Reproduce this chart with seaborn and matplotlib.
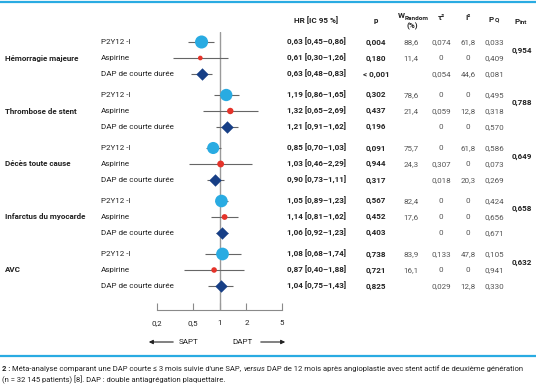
import numpy as np
import pandas as pd
import seaborn as sns
import matplotlib.pyplot as plt
from matplotlib.ticker import FixedLocator, FixedFormatter, NullLocator

groups = ["Hémorragie majeure", "Thrombose de stent", "Décès toute cause",
          "Infarctus du myocarde", "AVC"]
treatments = ["P2Y12 -I", "Aspirine", "DAP de courte durée"]

hr = [[0.63, 0.61, 0.63], [1.19, 1.32, 1.21], [0.85, 1.03, 0.90],
      [1.05, 1.14, 1.06], [1.08, 0.87, 1.04]]
ci_low = [[0.45, 0.30, 0.48], [0.86, 0.65, 0.91], [0.70, 0.46, 0.73],
          [0.89, 0.81, 0.92], [0.68, 0.40, 0.75]]
ci_high = [[0.86, 1.26, 0.83], [1.65, 2.69, 1.62], [1.03, 2.29, 1.11],
           [1.23, 1.62, 1.23], [1.74, 1.88, 1.43]]
p_txt = [["0,004", "0,180", "< 0,001"], ["0,302", "0,437", "0,196"],
         ["0,091", "0,944", "0,317"], ["0,567", "0,452", "0,403"],
         ["0,738", "0,721", "0,825"]]
weight = [[88.6, 11.4, None], [78.6, 21.4, None], [75.7, 24.3, None],
          [82.4, 17.6, None], [83.9, 16.1, None]]
tau2 = [["0,074", "0", "0,054"], ["0", "0,059", "0"], ["0", "0,307", "0,018"],
        ["0", "0", "0"], ["0,133", "0", "0,029"]]
i2 = [["61,8", "0", "44,6"], ["0", "12,8", "0"], ["61,8", "0", "20,3"],
      ["0", "0", "0"], ["47,8", "0", "12,8"]]
pq = [["0,033", "0,409", "0,081"], ["0,495", "0,318", "0,570"],
      ["0,586", "0,073", "0,269"], ["0,424", "0,656", "0,671"],
      ["0,105", "0,941", "0,330"]]
p_int = ["0,954", "0,788", "0,649", "0,658", "0,632"]

tick_vals = [0.2, 0.5, 1, 2, 5]
tick_labels = ["0,2", "0,5", "1", "2", "5"]

W, H = 536, 386
def fx(px):
    return px / W
def fy(py):
    return 1 - py / H

def fmt(v):
    return f"{v:.2f}".replace(".", ",")

# row layout (pixel units)
top, group_step, row_step = 42, 53, 16
rows = []
for g in range(len(groups)):
    for r in range(3):
        rows.append(dict(group=g, trt=treatments[r], r=r,
                         y=top + g * group_step + r * row_step,
                         hr=hr[g][r], lo=ci_low[g][r], hi=ci_high[g][r],
                         w=weight[g][r]))
df = pd.DataFrame(rows)

sns.set_theme(style="white")
plt.rcParams["font.family"] = ["Roboto", "DejaVu Sans"]

blue, red, navy = "#29abe2", "#e5332a", "#173f86"
txt = "#222222"
fs = 5.8

fig = plt.figure(figsize=(W / 100, H / 100), dpi=100)

# forest axes: 0.2 -> 157 px, 5 -> 282 px
x0, dec = 219.5, 89.4
L, R = 140, 300
ax = fig.add_axes([fx(L), fy(310), (R - L) / W, (310 - 32) / H])
ax.set_xscale("log")
ax.set_xlim(10 ** ((L - x0) / dec), 10 ** ((R - x0) / dec))
ax.set_ylim(310, 32)

ax.axvline(1, color="#9a9a9a", lw=1, zorder=1)
ax.hlines(df["y"], df["lo"], df["hi"], color="#666666", lw=0.8, zorder=2)

circ = df[df["trt"] != treatments[2]]
sns.scatterplot(data=circ, x="hr", y="y", hue="trt",
                palette={treatments[0]: blue, treatments[1]: red},
                size="w", sizes=(0, 100), size_norm=(0, 100),
                linewidth=0, legend=False, zorder=3, ax=ax)
dap = df[df["trt"] == treatments[2]]
sns.scatterplot(data=dap, x="hr", y="y", marker="D", color=navy, s=40,
                linewidth=0, legend=False, zorder=3, ax=ax)

for s in ["top", "left", "right"]:
    ax.spines[s].set_visible(False)
ax.spines["bottom"].set_color("#8a8a8a")
ax.spines["bottom"].set_linewidth(0.8)
ax.spines["bottom"].set_bounds(tick_vals[0], tick_vals[-1])
ax.xaxis.set_major_locator(FixedLocator(tick_vals))
ax.xaxis.set_major_formatter(FixedFormatter(tick_labels))
ax.xaxis.set_minor_locator(NullLocator())
ax.tick_params(axis="x", direction="in", length=5, width=0.8, color="#8a8a8a",
               labelsize=fs, labelcolor=txt, pad=7, bottom=True)
ax.set_yticks([])
ax.set_xlabel("")
ax.set_ylabel("")
ax.patch.set_alpha(0)

# row / group labels and table
for g, name in enumerate(groups):
    ymid = top + g * group_step + row_step
    fig.text(fx(5), fy(ymid), name, fontsize=fs, fontweight="bold",
             color=txt, va="center")
    fig.text(fx(522), fy(ymid - row_step / 2), p_int[g], fontsize=fs,
             fontweight="bold", color=txt, va="center", ha="center")
    for r in range(3):
        y = fy(top + g * group_step + r * row_step)
        fig.text(fx(101), y, treatments[r], fontsize=fs, color=txt, va="center")
        ci = f"{fmt(hr[g][r])} [{fmt(ci_low[g][r])}–{fmt(ci_high[g][r])}]"
        fig.text(fx(287), y, ci, fontsize=fs, fontweight="bold", color=txt,
                 va="center")
        fig.text(fx(376), y, p_txt[g][r], fontsize=fs, fontweight="bold",
                 color=txt, va="center", ha="center")
        if weight[g][r] is not None:
            fig.text(fx(411), y, f"{weight[g][r]:.1f}".replace(".", ","),
                     fontsize=fs, color="#555555", va="center", ha="center")
        fig.text(fx(441), y, tau2[g][r], fontsize=fs, color="#555555",
                 va="center", ha="center")
        fig.text(fx(468), y, i2[g][r], fontsize=fs, color="#555555",
                 va="center", ha="center")
        fig.text(fx(494), y, pq[g][r], fontsize=fs, color="#555555",
                 va="center", ha="center")

# headers
hkw = dict(fontsize=fs, fontweight="bold", color=txt, va="center")
fig.text(fx(316), fy(20), "HR [IC 95 %]", ha="center", **hkw)
fig.text(fx(376), fy(20), "p", ha="center", **hkw)
fig.text(fx(401), fy(15), "W", ha="center", **hkw)
fig.text(fx(405), fy(18), "Random", ha="left", fontsize=4.6,
         fontweight="bold", color=txt, va="center")
fig.text(fx(412), fy(26), "(%)", ha="center", **hkw)
fig.text(fx(441), fy(18), "τ²", ha="center", **hkw)
fig.text(fx(468), fy(18), "I²", ha="center", **hkw)
fig.text(fx(491), fy(19), "P", ha="center", **hkw)
fig.text(fx(495), fy(20), "Q", ha="left", fontsize=4.6, fontweight="bold",
         color=txt, va="center")
fig.text(fx(517), fy(21), "P", ha="center", **hkw)
fig.text(fx(520), fy(22), "int", ha="left", fontsize=4.6, fontweight="bold",
         color=txt, va="center")

# SAPT / DAPT arrows
ax.annotate("", xy=(fx(146), fy(342)), xytext=(fx(176), fy(342)),
            xycoords="figure fraction", textcoords="figure fraction",
            arrowprops=dict(arrowstyle="-|>", color=txt, lw=0.8,
                            mutation_scale=6), annotation_clip=False)
fig.text(fx(179), fy(342), "SAPT", fontsize=fs, color=txt, va="center")
fig.text(fx(232), fy(342), "DAPT", fontsize=fs, color=txt, va="center")
ax.annotate("", xy=(fx(288), fy(342)), xytext=(fx(258), fy(342)),
            xycoords="figure fraction", textcoords="figure fraction",
            arrowprops=dict(arrowstyle="-|>", color=txt, lw=0.8,
                            mutation_scale=6), annotation_clip=False)

# blue rules
for py in [2, 356]:
    fig.add_artist(plt.Line2D([0, 1], [fy(py), fy(py)], color=blue, lw=1.6))

# caption, chained pieces
def chain(parts, px, py, size):
    style, s = parts[0]
    t = fig.text(fx(px), fy(py), s, fontsize=size, color=txt, va="bottom",
                 **style)
    for style, s in parts[1:]:
        t = ax.annotate(s, xy=(1, 0), xycoords=t, va="bottom", ha="left",
                        fontsize=size, color=txt, annotation_clip=False, **style)

bold = dict(fontweight="bold")
ital = dict(fontstyle="italic")
norm = dict()
chain([(bold, "2 : "),
       (norm, "Méta-analyse comparant une DAP courte ≤ 3 mois suivie d'une SAP, "),
       (ital, "versus"),
       (norm, " DAP de 12 mois après angioplastie avec stent actif de deuxième génération")],
      2, 372, 5.5)
chain([(norm, "(n = 32 145 patients) [8]. DAP : double antiagrégation plaquettaire.")],
      2, 384, 5.5)

fig.savefig("out.png", dpi=100)
